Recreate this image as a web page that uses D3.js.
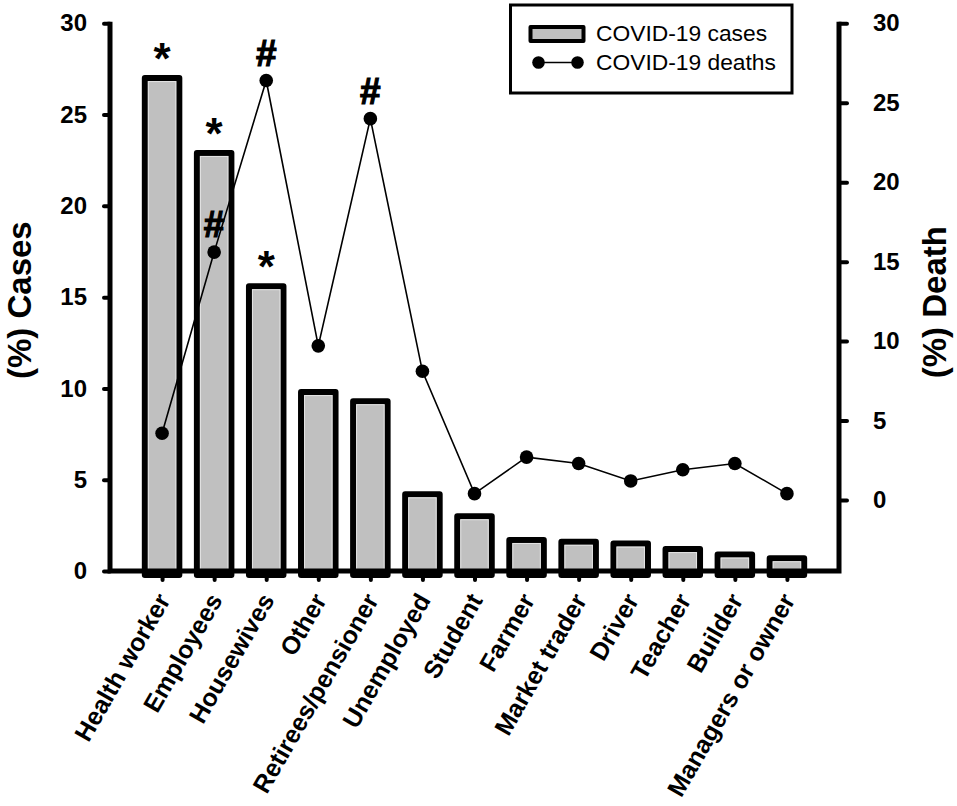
<!DOCTYPE html>
<html>
<head>
<meta charset="utf-8">
<script src="https://cdn.jsdelivr.net/npm/d3@7/dist/d3.min.js"></script>
<style>
  html, body { margin: 0; padding: 0; background: #fff; }
  svg { display: block; }
  text { font-family: "Liberation Sans", Arial, Helvetica, sans-serif; fill: #000; }
</style>
</head>
<body>
<svg id="chart" width="957" height="806"></svg>
<script>
// ---- data ----
const categories = ["Health worker", "Employees", "Housewives", "Other", "Retirees/pensioner",
  "Unemployed", "Student", "Farmer", "Market trader", "Driver", "Teacher", "Builder", "Managers or owner"];
const casesPct = [27.0, 22.9, 15.6, 9.8, 9.3, 4.2, 3.0, 1.7, 1.6, 1.5, 1.2, 0.9, 0.7];
const deathsPct = [4.2, 15.6, 26.4, 9.7, 24.0, 8.1, 0.4, 2.7, 2.3, 1.2, 1.9, 2.3, 0.4];
const caseMarks = ["*", "*", "*", "", "", "", "", "", "", "", "", "", ""];
const deathMarks = ["", "#", "#", "", "#", "", "", "", "", "", "", "", ""];
const tickValues = [0, 5, 10, 15, 20, 25, 30];
const seriesNames = ["COVID-19 cases", "COVID-19 deaths"];
const axisTitles = ["(%) Cases", "(%) Death"];

// ---- layout ----
const pL = 110, pR = 839, pT = 23.3, pB = 571, rightZero = 500;
const svg = d3.select("#chart");

const x = d3.scalePoint().domain(categories).range([pL, pR]).padding(1);
const yL = d3.scaleLinear().domain([0, 30]).range([pB, pT]);
const yR = d3.scaleLinear().domain([0, 30]).range([rightZero, pT]);

const barW = 34.5, barStroke = 6;

// bars
const bars = svg.append("g");
bars.selectAll("rect.bar").data(casesPct).join("rect")
  .attr("class", "bar")
  .attr("x", (d, i) => x(categories[i]) - barW / 2)
  .attr("y", d => yL(d))
  .attr("width", barW)
  .attr("height", d => yL(0) - yL(d) + 4)
  .attr("fill", "#c0c0c0")
  .attr("stroke", "#000")
  .attr("stroke-width", barStroke)
  .attr("stroke-linejoin", "round");
// inner light edge
bars.selectAll("rect.hl").data(casesPct).join("rect")
  .attr("class", "hl")
  .attr("x", (d, i) => x(categories[i]) - barW / 2 + barStroke / 2 + 0.5)
  .attr("y", d => yL(d) + barStroke / 2 + 0.5)
  .attr("width", barW - barStroke - 1)
  .attr("height", d => Math.max(0, yL(0) - yL(d) - barStroke / 2 - 1))
  .attr("fill", "none")
  .attr("stroke", "#e4e4e4")
  .attr("stroke-width", 1);

// line
const line = d3.line().x((d, i) => x(categories[i])).y(d => yR(d));
svg.append("path").datum(deathsPct)
  .attr("d", line)
  .attr("fill", "none")
  .attr("stroke", "#000")
  .attr("stroke-width", 1.6);
svg.append("g").selectAll("circle").data(deathsPct).join("circle")
  .attr("cx", (d, i) => x(categories[i]))
  .attr("cy", d => yR(d))
  .attr("r", 6.8)
  .attr("fill", "#000");

// annotations
svg.append("g").selectAll("text").data(casesPct).join("text")
  .text((d, i) => caseMarks[i])
  .attr("x", (d, i) => x(categories[i]))
  .attr("y", d => yL(d) - 4)
  .attr("text-anchor", "middle")
  .attr("font-size", 44)
  .attr("font-weight", "bold");
svg.append("g").selectAll("text").data(deathsPct).join("text")
  .text((d, i) => deathMarks[i])
  .attr("x", (d, i) => x(categories[i]))
  .attr("y", d => yR(d) - 15)
  .attr("text-anchor", "middle")
  .attr("font-size", 37)
  .attr("font-weight", "bold")
  .attr("stroke", "#000")
  .attr("stroke-width", 1.2);

// axes
function styleAxis(g) {
  g.select(".domain").remove();
  g.selectAll(".tick line").attr("stroke", "#000").attr("stroke-width", 4).attr("stroke-linecap", "round");
  g.selectAll(".tick text").attr("font-size", 24).attr("font-weight", "bold").attr("fill", "#000");
}
const gL = svg.append("g").attr("transform", `translate(${pL},0)`)
  .call(d3.axisLeft(yL).tickValues(tickValues).tickSize(6).tickPadding(17));
styleAxis(gL);
const gR = svg.append("g").attr("transform", `translate(${pR},0)`)
  .call(d3.axisRight(yR).tickValues(tickValues).tickSize(8).tickPadding(26));
styleAxis(gR);
const gB = svg.append("g").attr("transform", `translate(0,${pB})`)
  .call(d3.axisBottom(x).tickSize(9).tickFormat(""));
styleAxis(gB);
gB.selectAll(".tick text").remove();

// spines
svg.append("path")
  .attr("d", `M${pL},${pT - 1.5}V${pB}H${pR}V${pT - 1.5}`)
  .attr("fill", "none").attr("stroke", "#000").attr("stroke-width", 5)
  .attr("stroke-linejoin", "miter");

// category labels
svg.append("g").selectAll("text").data(categories).join("text")
  .text(d => d)
  .attr("transform", d => `translate(${x(d) + 9},${pB + 29}) rotate(-60)`)
  .attr("text-anchor", "end")
  .attr("font-size", 25)
  .attr("font-weight", "bold");

// axis titles
svg.append("text").text(axisTitles[0])
  .attr("transform", `translate(31,${(pT + pB) / 2 + 3}) rotate(-90)`)
  .attr("text-anchor", "middle").attr("font-size", 33).attr("font-weight", "bold");
svg.append("text").text(axisTitles[1])
  .attr("transform", `translate(946,${(pT + pB) / 2 + 5}) rotate(-90)`)
  .attr("text-anchor", "middle").attr("font-size", 33).attr("font-weight", "bold");

// legend
const lg = svg.append("g");
lg.append("rect").attr("x", 510.5).attr("y", 5).attr("width", 281.5).attr("height", 88)
  .attr("fill", "#fff").attr("stroke", "#000").attr("stroke-width", 3);
lg.append("rect").attr("x", 530.5).attr("y", 27).attr("width", 53).attr("height", 14)
  .attr("fill", "#c0c0c0").attr("stroke", "#000").attr("stroke-width", 4).attr("stroke-linejoin", "round");
lg.append("line").attr("x1", 538.5).attr("x2", 577.5).attr("y1", 62.5).attr("y2", 62.5)
  .attr("stroke", "#000").attr("stroke-width", 1.6);
lg.selectAll("circle").data([538.5, 577.5]).join("circle")
  .attr("cx", d => d).attr("cy", 62.5).attr("r", 6.3).attr("fill", "#000");
lg.selectAll("text").data(seriesNames).join("text")
  .text(d => d)
  .attr("x", 596)
  .attr("y", (d, i) => 41 + i * 28.5)
  .attr("font-size", 22.8);
</script>
</body>
</html>
